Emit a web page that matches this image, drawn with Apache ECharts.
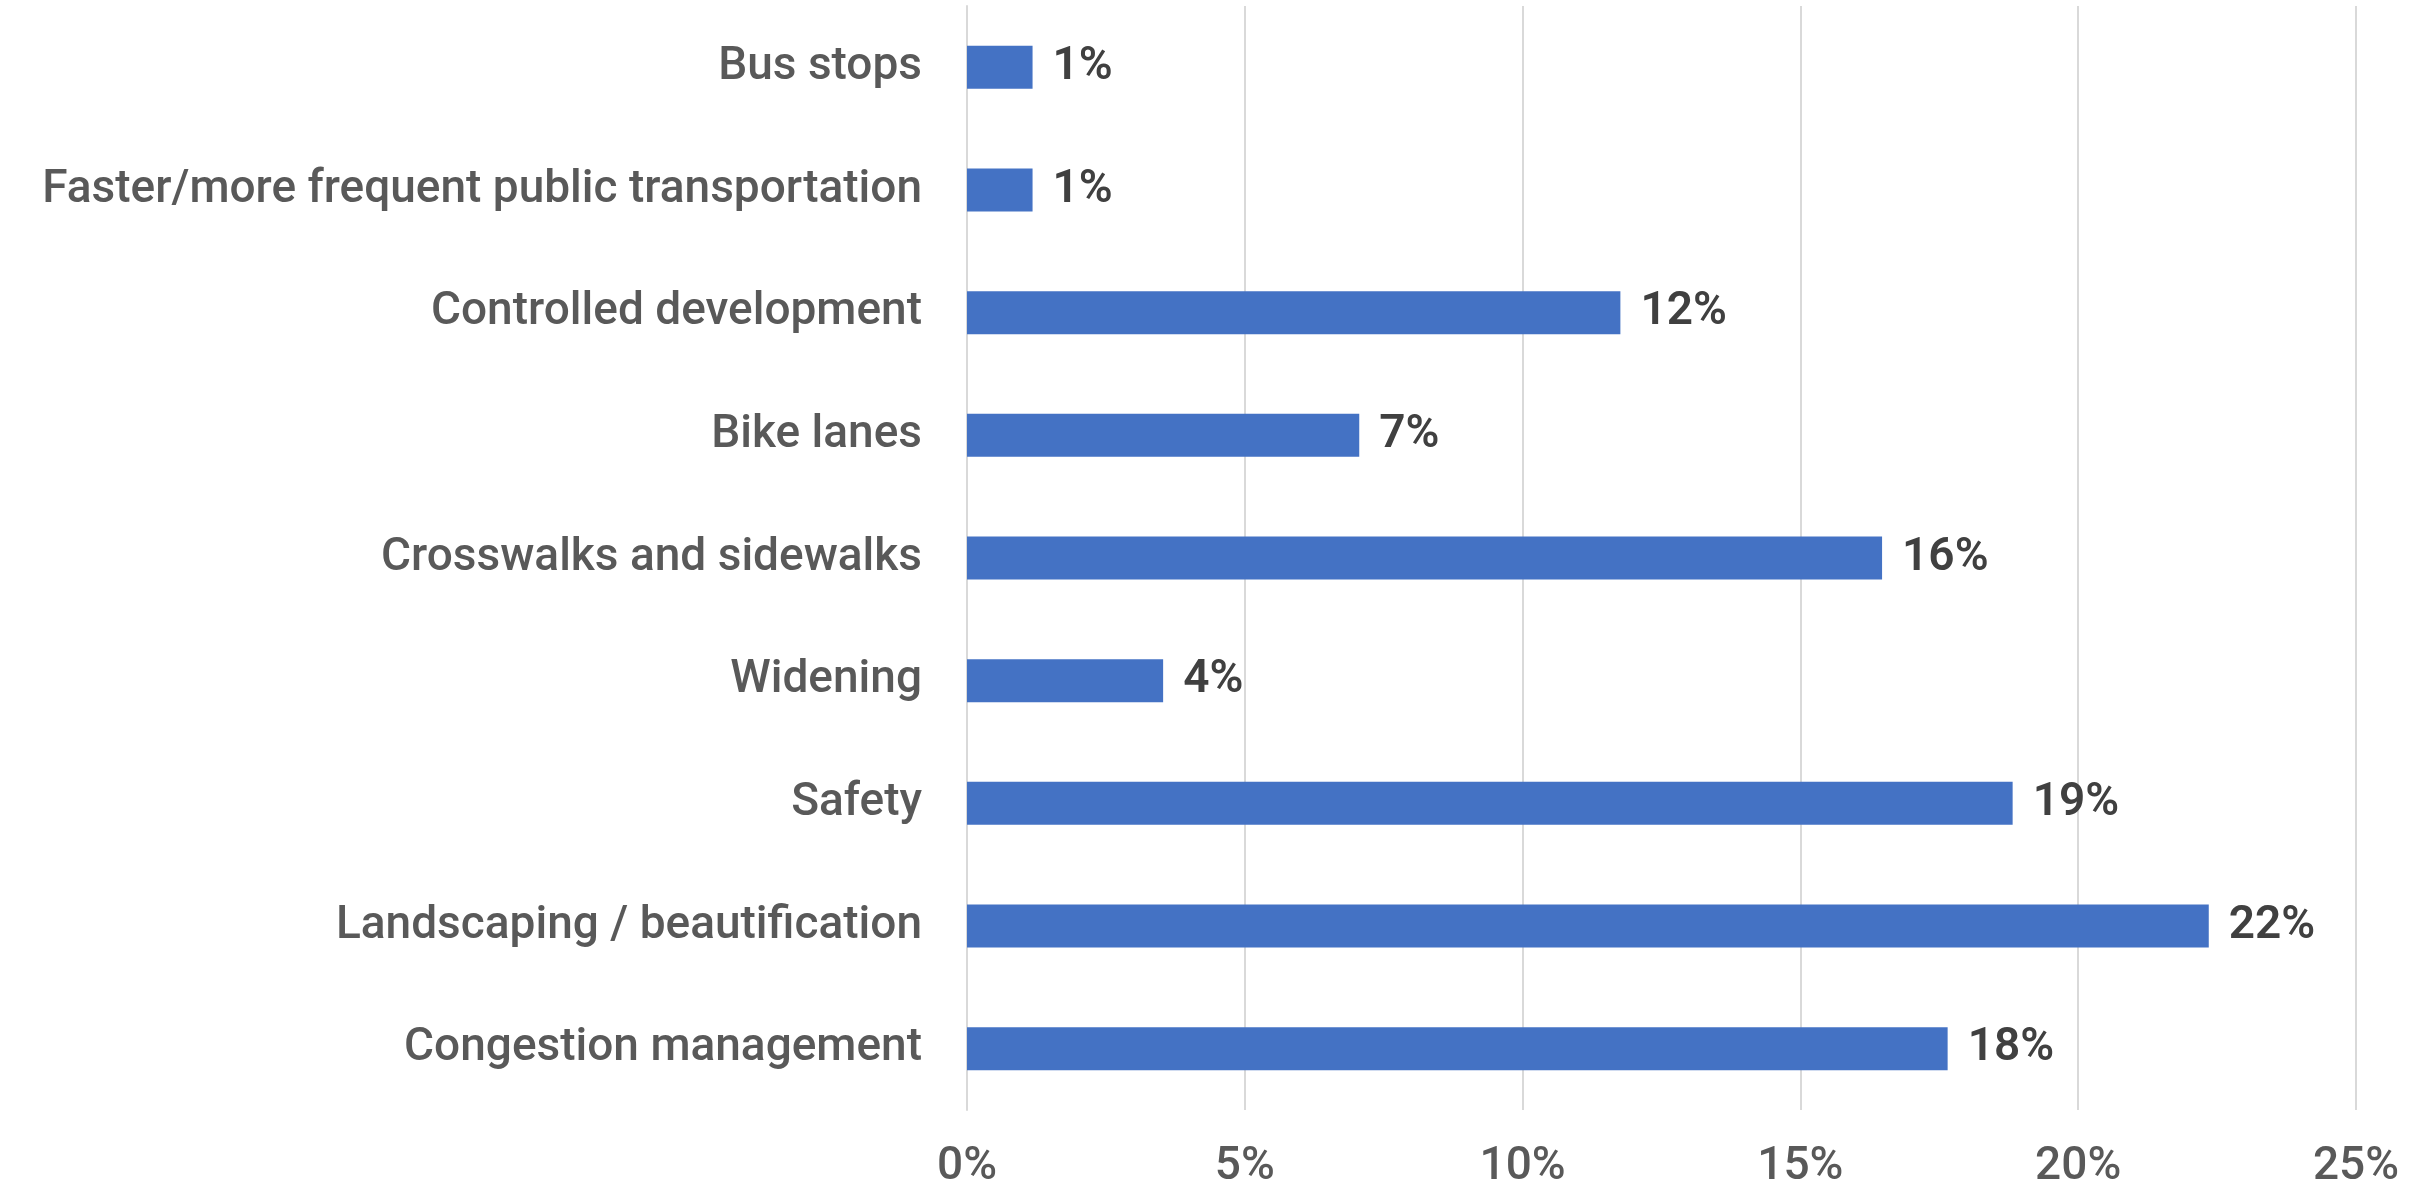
<!DOCTYPE html>
<html>
<head>
<meta charset="utf-8">
<script src="https://cdn.jsdelivr.net/npm/echarts@6/dist/echarts.min.js"></script>
<style>
  html, body { margin: 0; padding: 0; background: #ffffff; }
  #chart { width: 2430px; height: 1185px; }
</style>
</head>
<body>
<div id="chart"></div>
<script>
// Improvement priorities, share of responses (%), listed top to bottom
const categories = [
  'Bus stops',
  'Faster/more frequent public transportation',
  'Controlled development',
  'Bike lanes',
  'Crosswalks and sidewalks',
  'Widening',
  'Safety',
  'Landscaping / beautification',
  'Congestion management'
];
const shares = [1.18, 1.18, 11.76, 7.06, 16.47, 3.53, 18.82, 22.35, 17.65];
const axisTicks = [0, 5, 10, 15, 20, 25];

const FONT = 'Roboto, "Noto Sans", "DejaVu Sans", sans-serif';

const chart = echarts.init(document.getElementById('chart'));
chart.setOption({
  backgroundColor: '#ffffff',
  animation: false,
  grid: {
    left: 967, right: 74, top: 6, bottom: 75,
    containLabel: false,
    outerBoundsMode: 'none'
  },
  xAxis: {
    type: 'value',
    min: axisTicks[0],
    max: axisTicks[axisTicks.length - 1],
    interval: axisTicks[1] - axisTicks[0],
    axisLine: { show: false },
    axisTick: { show: false },
    splitLine: { show: true, lineStyle: { color: '#d9d9d9', width: 2 } },
    axisLabel: {
      formatter: '{value}%',
      color: '#595959',
      fontFamily: FONT,
      fontWeight: 500,
      fontSize: 46,
      margin: 34
    }
  },
  yAxis: {
    type: 'category',
    inverse: true,
    data: categories,
    axisLine: { show: true, lineStyle: { color: '#d9d9d9', width: 2 } },
    axisTick: { show: false },
    axisLabel: {
      color: '#595959',
      fontFamily: FONT,
      fontWeight: 500,
      fontSize: 46,
      margin: 45,
      padding: [6, 0, 0, 0]
    }
  },
  series: [{
    type: 'bar',
    data: shares,
    barWidth: 43,
    itemStyle: { color: '#4472c4' },
    label: {
      show: true,
      position: 'right',
      distance: 20,
      color: '#404040',
      fontFamily: FONT,
      fontWeight: 600,
      fontSize: 46,
      padding: [6, 0, 0, 0],
      formatter: p => Math.round(p.value) + '%'
    }
  }]
});
</script>
</body>
</html>
